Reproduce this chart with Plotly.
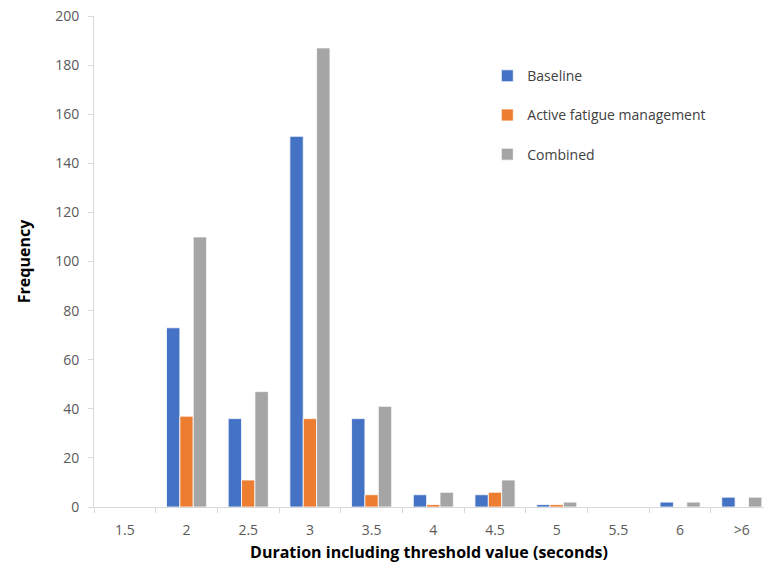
import plotly.graph_objects as go

categories = ["1.5", "2", "2.5", "3", "3.5", "4", "4.5", "5", "5.5", "6", ">6"]
baseline = [0, 73, 36, 151, 36, 5, 5, 1, 0, 2, 4]
active_fatigue = [0, 37, 11, 36, 5, 1, 6, 1, 0, 0, 0]
combined = [0, 110, 47, 187, 41, 6, 11, 2, 0, 2, 4]

series = [
    ("Baseline", baseline, "#4472C4", "g1"),
    ("Active fatigue management", active_fatigue, "#ED7D31", "g2"),
    ("Combined", combined, "#A5A5A5", "g3"),
]

fig = go.Figure()
for name, vals, color, grp in series:
    fig.add_trace(go.Bar(
        x=categories, y=vals, name=name, legendgroup=grp,
        marker=dict(color=color, line=dict(color="white", width=0.8)),
    ))

font_family = "Open Sans, Liberation Sans, sans-serif"

fig.update_layout(
    width=764, height=566,
    margin=dict(l=94, r=0, t=16, b=59),
    paper_bgcolor="white", plot_bgcolor="white",
    barmode="group", bargap=0.35, bargroupgap=0,
    font=dict(family=font_family, color="#595959", size=14),
    legend=dict(
        x=0.587, y=0.91, xanchor="left", yanchor="top",
        font=dict(size=14, color="#404040"),
        traceorder="grouped", tracegroupgap=18, itemwidth=30,
        bgcolor="rgba(0,0,0,0)",
    ),
    xaxis=dict(
        type="category", range=[-0.5, 10.36],
        showline=True, linecolor="#d9d9d9", linewidth=1,
        ticks="outside", tickson="boundaries", ticklen=5, tickcolor="#d9d9d9",
        ticklabelstandoff=10,
        showgrid=False,
        title=dict(text="<b>Duration including threshold value (seconds)</b>",
                   font=dict(size=16, color="#000000"), standoff=9),
    ),
    yaxis=dict(
        range=[0, 200], dtick=20,
        showline=True, linecolor="#d9d9d9", linewidth=1,
        ticks="outside", ticklen=5, tickcolor="#d9d9d9",
        ticklabelstandoff=6,
        showgrid=False, zeroline=False,
        title=dict(text="<b>Frequency</b>",
                   font=dict(size=16, color="#000000"), standoff=20),
    ),
)

fig.write_html("out.html")
